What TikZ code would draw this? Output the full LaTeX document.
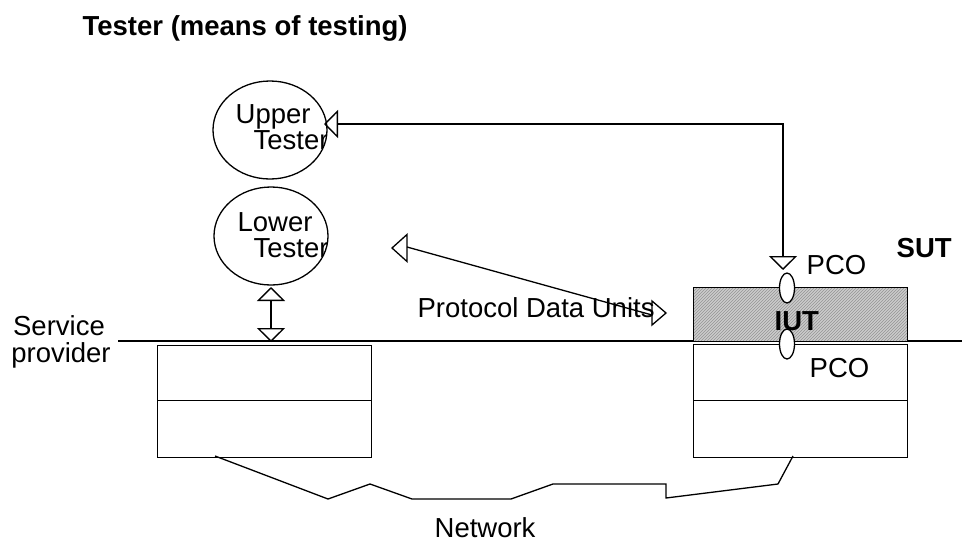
\documentclass[tikz,border=0pt]{standalone}
\usepackage{fontspec}
\setmainfont{Liberation Sans}
\usetikzlibrary{arrows.meta,patterns,shapes.geometric}

\tikzset{
  lbl/.style={font=\fontsize{27.5}{27.5}\selectfont, inner sep=0pt},
  blbl/.style={font=\bfseries\fontsize{27.5}{27.5}\selectfont, inner sep=0pt},
  tester/.style={draw, ellipse, minimum width=114pt, minimum height=98pt, inner sep=0pt},
  pco/.style={draw, ellipse, fill=white, minimum width=15pt, minimum height=30pt, inner sep=0pt},
  layerbox/.style={draw, rectangle, minimum width=214pt, inner sep=0pt, anchor=north west},
  opentip/.tip={Triangle[open, length=14pt, width=28pt]},
  biarrow/.style={opentip-opentip},
  tri/.style={draw, line join=miter},
}

\begin{document}
\begin{tikzpicture}[x=1pt, y=-1pt, line width=1.3pt]
  \useasboundingbox (0,0) rectangle (964,541);

  % title
  \node[blbl, anchor=base west] (title) at (82,35) {Tester (means of testing)};

  % testers
  \node[tester] (ut) at (270,130) {};
  \node[tester] (lt) at (271,236) {};
  \begin{scope}
    \clip (270,130) ellipse [x radius=56, y radius=48];
    \node[lbl, anchor=base west] (utx1) at (235,123) {Upper};
    \node[lbl, anchor=base west] (utx2) at (253,149) {Tester};
  \end{scope}
  \begin{scope}
    \clip (271,236) ellipse [x radius=56, y radius=48];
    \node[lbl, anchor=base west] (ltx1) at (237,231) {Lower};
    \node[lbl, anchor=base west] (ltx2) at (253,257) {Tester};
  \end{scope}

  % service provider boundary
  \coordinate (spL) at (118,341);
  \coordinate (spR) at (962,341);
  \draw (spL) -- (spR);
  \node[lbl, anchor=base] (sp1) at (59,335) {Service};
  \node[lbl, anchor=base] (sp2) at (61,362) {provider};

  % lower layers, tester side
  \node[layerbox, minimum height=55pt] (lb1) at (157,345) {};
  \node[layerbox, minimum height=57pt] (lb2) at (157,400) {};

  % system under test
  \node[layerbox, minimum height=54pt,
        preaction={fill=black!20}, pattern=north east lines, pattern color=black!42] (iut) at (693,287) {};
  \node[layerbox, minimum height=56pt] (rb1) at (693,344) {};
  \node[layerbox, minimum height=57pt] (rb2) at (693,400) {};

  % points of control and observation
  \node[pco] (pco1) at (787,288) {};
  \node[pco] (pco2) at (787,344) {};

  \node[blbl, anchor=base west] (iutx) at (774,330) {IUT};
  \node[blbl, anchor=base west] (sut) at (896,257) {SUT};
  \node[lbl, anchor=base west] (pcox1) at (806,274) {PCO};
  \node[lbl, anchor=base west] (pcox2) at (809,377) {PCO};

  % upper tester <-> upper PCO
  \coordinate (utTip) at (324,124);
  \coordinate (pcoTip) at (783,270);
  \draw[biarrow] (utTip) -- (utTip -| pcoTip) -- (pcoTip);

  % lower tester <-> service provider
  \coordinate (ltTip) at (271,287);
  \coordinate (spTip) at (271,342);
  \draw[biarrow] (ltTip) -- (spTip);

  % protocol data units
  \node[lbl, anchor=base west] (pdux) at (417,317) {Protocol Data Units};
  \coordinate (pduL) at (392,248);
  \coordinate (pduR) at (666,313);
  \draw ([xshift=15pt,yshift=1pt]pduL) -- ([xshift=-14pt,yshift=-2pt]pduR);
  \draw[tri] (pduL) -- ++(15,-13.5) -- ++(0,27) -- cycle;
  \draw[tri] (pduR) -- ++(-14,-12) -- ++(0,24) -- cycle;

  % network
  \coordinate (netA) at (215,456);
  \coordinate (netB) at (793,456);
  \draw[line join=miter] (netA) -- (328,499) -- (370,484) -- (412,499) -- (511,499)
        -- (553,484) -- (666,484) -- (666,498) -- (778,484) -- (netB);
  \node[lbl, anchor=base west] (netx) at (434,537) {Network};
\end{tikzpicture}
\end{document}
